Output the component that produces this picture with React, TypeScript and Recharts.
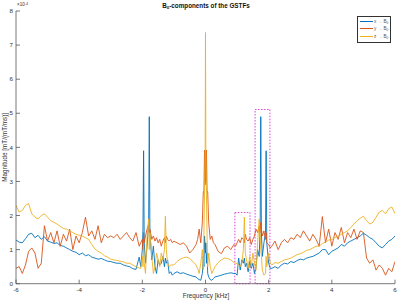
import React from 'react';
import { LineChart, Line, XAxis, YAxis, ReferenceArea, Legend, Customized, Label } from 'recharts';

// Frequency axis (kHz) – denser sampling around the spikes
const freqKHz = [
  -6.0, -5.9, -5.8, -5.7, -5.6, -5.5, -5.4, -5.3, -5.2, -5.1, -5.0, -4.9, -4.8, -4.7, -4.6, -4.5, -4.4, -4.3, -4.2, -4.1,
  -4.0, -3.9, -3.8, -3.7, -3.6, -3.5, -3.4, -3.3, -3.2, -3.1, -3.0, -2.9, -2.8, -2.7, -2.6, -2.5, -2.4, -2.3, -2.2, -2.1,
  -2.05, -2.0, -1.98, -1.96, -1.94, -1.9, -1.85, -1.8, -1.78, -1.76, -1.7, -1.65, -1.6, -1.55, -1.5, -1.45, -1.4, -1.35, -1.3, -1.27,
  -1.24, -1.2, -1.15, -1.1, -1.05,
  -1.0, -0.9, -0.8, -0.7, -0.6, -0.5, -0.4, -0.3,
  -0.25, -0.2, -0.15, -0.1, -0.07, -0.05, -0.03, -0.01, 0, 0.01, 0.03, 0.05, 0.07, 0.1, 0.15, 0.2, 0.25,
  0.3, 0.4, 0.5, 0.6, 0.7, 0.8, 0.9,
  0.95, 1.0, 1.05, 1.1, 1.15, 1.2, 1.23, 1.26, 1.3, 1.35, 1.4, 1.45, 1.5, 1.55, 1.6, 1.65, 1.7, 1.73, 1.75, 1.77,
  1.8, 1.85, 1.9, 1.92, 1.94, 2.0, 2.05,
  2.1, 2.2, 2.3, 2.4, 2.5, 2.6, 2.7, 2.8, 2.9, 3.0, 3.1, 3.2, 3.3, 3.4, 3.5, 3.6, 3.7, 3.8, 3.9, 4.0,
  4.1, 4.2, 4.3, 4.4, 4.5, 4.6, 4.7, 4.8, 4.9, 5.0, 5.1, 5.2, 5.3, 5.4, 5.5, 5.6, 5.7, 5.8, 5.9, 6.0,
];

// x -> B0 (units of 1e-4)
const xToB0 = [
  1.28, 1.22, 1.2, 1.32, 1.45, 1.48, 1.35, 1.42, 1.3, 1.38, 1.25, 1.22, 1.18, 1.2, 1.12, 1.1, 1.05, 1.0, 0.95, 0.92,
  0.85, 0.9, 0.82, 0.85, 0.78, 0.75, 0.72, 0.74, 0.7, 0.66, 0.65, 0.62, 0.6, 0.6, 0.55, 0.52, 0.5, 0.44, 0.42, 0.78,
  0.5, 1.0, 1.6, 3.9, 1.2, 0.6, 1.1, 1.8, 4.9, 1.5, 0.7, 1.1, 0.5, 0.3, 0.7, 0.55, 0.6, 0.8, 0.5, 0.75,
  0.6, 0.7, 0.3, 0.35, 0.25,
  0.3, 0.35, 0.3, 0.32, 0.28, 0.25, 0.22, 0.2,
  0.15, 0.12, 0.1, 0.3, 0.8, 0.5, 1.4, 1.0, 0.9, 1.2, 0.6, 0.9, 0.3, 0.2, 0.12, 0.1, 0.15,
  0.2, 0.22, 0.25, 0.28, 0.3, 0.32, 0.3,
  0.3, 0.25, 0.75, 0.4, 0.7, 0.6, 0.75, 0.5, 0.6, 0.35, 0.65, 0.45, 0.6, 0.3, 0.5, 1.0, 0.8, 1.6, 4.9, 1.5,
  0.8, 1.2, 1.5, 3.9, 1.2, 0.6, 0.45,
  0.45, 0.5, 0.45, 0.55, 0.6, 0.58, 0.65, 0.62, 0.68, 0.72, 0.7, 0.75, 0.78, 0.8, 0.85, 0.9, 1.0, 1.0, 0.85, 0.95,
  1.0, 1.05, 1.15, 1.1, 1.2, 1.25, 1.3, 1.35, 1.4, 1.48, 1.42, 1.35, 1.3, 1.2, 1.1, 1.05, 1.15, 1.25, 1.3, 1.4,
];

// y -> B0
const yToB0 = [
  0.45, 0.5, 0.3, 0.55, 0.95, 1.05, 0.9, 0.45, 0.6, 1.7, 1.25, 1.5, 1.2, 1.55, 1.1, 1.45, 1.25, 1.6, 1.0, 1.4,
  1.2, 1.5, 1.95, 1.4, 1.55, 1.3, 1.7, 1.2, 1.45, 1.35, 1.4, 1.35, 1.45, 1.3, 1.4, 1.5, 1.35, 1.25, 1.5, 1.1,
  1.2, 1.3, 1.0, 1.5, 1.2, 1.4, 1.6, 1.75, 1.5, 1.6, 1.3, 1.4, 1.25, 1.35, 1.2, 1.3, 1.1, 1.25, 1.35, 1.2,
  1.4, 1.3, 1.25, 1.3, 1.2,
  1.25, 1.2, 1.15, 1.2, 1.1, 0.9, 1.0, 1.15,
  1.3, 1.6, 1.2, 1.8, 2.7, 2.7, 3.92, 2.9, 3.9, 3.0, 3.92, 2.7, 2.7, 1.8, 1.3, 1.4, 1.2,
  1.15, 0.95, 0.88, 1.05, 1.1, 1.0, 1.15,
  1.1, 1.2, 1.3, 1.2, 1.35, 1.3, 1.2, 1.45, 1.3, 1.25, 1.35, 1.15, 1.3, 1.4, 1.6, 1.5, 1.7, 1.5, 1.8, 1.6,
  1.4, 1.55, 1.3, 1.5, 1.2, 1.15, 1.05,
  1.1, 1.25, 1.0, 1.2, 1.3, 1.2, 1.35, 1.3, 1.45, 1.35, 1.55, 1.4, 1.25, 1.45, 1.3, 1.1, 1.97, 1.2, 1.6, 1.1,
  1.5, 1.3, 1.65, 1.2, 1.5, 1.35, 1.6, 1.3, 1.55, 1.5, 0.75, 0.6, 0.7, 0.4, 0.55, 0.45, 0.25, 0.45, 0.35, 0.65,
];

// z -> B0
const zToB0 = [
  2.3, 2.1, 2.15, 2.3, 2.35, 2.05, 1.95, 1.9, 2.0, 2.05, 1.95, 1.85, 1.8, 1.75, 1.68, 1.62, 1.6, 1.55, 1.5, 1.45,
  1.42, 1.4, 1.35, 1.3, 1.15, 1.02, 0.95, 0.9, 0.82, 0.78, 0.72, 0.7, 0.68, 0.66, 0.64, 0.6, 0.6, 0.55, 0.5, 0.46,
  0.45, 0.8, 0.5, 1.1, 0.6, 0.3, 1.4, 1.9, 1.0, 1.5, 0.8, 0.3, 0.5, 0.9, 0.7, 0.5, 0.9, 0.7, 1.0, 1.98,
  1.0, 0.6, 0.5, 0.55, 0.55,
  0.55, 0.65, 0.72, 0.76, 0.78, 0.74, 0.65, 0.55,
  0.45, 0.3, 0.6, 1.0, 0.4, 1.5, 2.7, 4.0, 7.37, 3.9, 2.6, 1.4, 0.5, 0.9, 0.5, 0.3, 0.4,
  0.5, 0.62, 0.7, 0.75, 0.74, 0.7, 0.62,
  0.6, 0.6, 0.55, 0.5, 0.6, 1.0, 1.95, 0.9, 0.7, 0.45, 0.8, 0.5, 0.9, 0.6, 0.4, 1.2, 1.9, 1.5, 1.0, 0.8,
  0.4, 0.25, 0.3, 0.8, 0.5, 0.9, 0.6,
  0.55, 0.62, 0.6, 0.65, 0.7, 0.72, 0.75, 0.8, 0.85, 0.88, 0.92, 0.98, 1.0, 1.05, 1.1, 1.1, 1.18, 1.22, 1.28, 1.3,
  1.35, 1.4, 1.45, 1.5, 1.55, 1.65, 1.75, 1.85, 1.92, 1.98, 1.85, 1.75, 1.8, 1.95, 2.1, 2.15, 2.05, 2.2, 2.25, 2.05,
];

const xTicks = [-6, -4, -2, 0, 2, 4, 6];
const yTicks = [0, 1, 2, 3, 4, 5, 6, 7, 8];
const seriesKeys = ['x', 'y', 'z'];
const seriesColors = ['#0072BD', '#D95319', '#EDB120'];
// highlighted regions: [fromKHz, toKHz, topValue]
const highlightBoxes = [
  { f1: 0.93, f2: 1.41, top: 2.09 },
  { f1: 1.57, f2: 2.04, top: 5.11 },
];

const data = freqKHz.map((f, i) => ({ f, x: xToB0[i], y: yToB0[i], z: zToB0[i] }));

const FONT = '"Liberation Sans", Arial, Helvetica, sans-serif';
const AXIS = '#555';
const TXT = '#333';

const XTick = (props: any) => {
  const { x, y, payload } = props;
  return (
    <g>
      <line x1={x} x2={x} y1={y} y2={y - 4} stroke={AXIS} strokeWidth={0.8} />
      <text x={x} y={y + 8} textAnchor="middle" fontSize={6.2} fill={TXT} fontFamily={FONT}>
        {payload.value}
      </text>
    </g>
  );
};

const YTick = (props: any) => {
  const { x, y, payload } = props;
  return (
    <g>
      <line x1={x} x2={x + 4} y1={y} y2={y} stroke={AXIS} strokeWidth={0.8} />
      <text x={x - 3} y={y + 2.2} textAnchor="end" fontSize={6.2} fill={TXT} fontFamily={FONT}>
        {payload.value}
      </text>
    </g>
  );
};

const Decorations = () => (
  <g fontFamily={FONT}>
    <text x={206} y={7.5} textAnchor="middle" fontWeight="bold" fontSize={6.3} fill="#111">
      B<tspan fontSize={4.4} dy={1.5}>0</tspan>
      <tspan dy={-1.5}>-components of the GSTFs</tspan>
    </text>
    <text x={17} y={6.3} fontSize={4.6} fill={TXT}>
      ×10<tspan fontSize={3.6} dy={-1.8}>-4</tspan>
    </text>
  </g>
);

const LegendBox = () => (
  <div
    style={{
      border: '1px solid #333',
      background: '#fff',
      width: 32,
      height: 24,
      boxSizing: 'content-box',
      fontFamily: FONT,
      fontSize: 4.6,
      color: '#555',
      paddingTop: 1,
    }}
  >
    {seriesKeys.map((k, i) => (
      <div key={k} style={{ position: 'relative', height: 7.6, width: 32 }}>
        <div
          style={{
            position: 'absolute',
            left: 2,
            top: 3.2,
            width: 13,
            height: 1.2,
            background: seriesColors[i],
          }}
        />
        <span style={{ position: 'absolute', left: 16, top: 0, whiteSpace: 'nowrap', lineHeight: '7px' }}>
          {k} → B<span style={{ fontSize: 3.2, position: 'relative', top: 1.2 }}>0</span>
        </span>
      </div>
    ))}
  </div>
);

export default function App() {
  return (
    <div style={{ position: 'absolute', left: 0, top: 0, background: '#fff' }}>
      <LineChart width={400} height={302} data={data} margin={{ top: 11, right: 5, left: 0, bottom: 0 }}>
        <XAxis
          dataKey="f"
          type="number"
          domain={[-6, 6]}
          ticks={xTicks}
          interval={0}
          allowDataOverflow
          height={18.3}
          tickSize={0}
          tickMargin={0}
          tickLine={false}
          axisLine={{ stroke: AXIS, strokeWidth: 0.8 }}
          tick={<XTick />}
        >
          <Label
            content={() => (
              <text x={206} y={298} textAnchor="middle" fontSize={6.4} fill={TXT} fontFamily={FONT}>
                Frequency [kHz]
              </text>
            )}
          />
        </XAxis>
        <YAxis
          type="number"
          domain={[0, 8]}
          ticks={yTicks}
          interval={0}
          allowDataOverflow
          width={16}
          tickSize={0}
          tickMargin={0}
          tickLine={false}
          axisLine={{ stroke: AXIS, strokeWidth: 0.8 }}
          tick={<YTick />}
        >
          <Label
            content={() => (
              <text
                x={5.5}
                y={147.4}
                textAnchor="middle"
                fontSize={6.3}
                fill={TXT}
                fontFamily={FONT}
                transform="rotate(-90 5.5 147.4)"
                dominantBaseline="middle"
              >
                Magnitude [mT/(mT/ms)]
              </text>
            )}
          />
        </YAxis>
        {seriesKeys.map((k, i) => (
          <Line
            key={k}
            dataKey={k}
            name={k}
            type="linear"
            stroke={seriesColors[i]}
            strokeWidth={0.9}
            dot={false}
            activeDot={false}
            isAnimationActive={false}
          />
        ))}
        {highlightBoxes.map((b, i) => (
          <ReferenceArea
            key={i}
            x1={b.f1}
            x2={b.f2}
            y1={0}
            y2={b.top}
            fill="none"
            fillOpacity={0}
            stroke="#DD44DD"
            strokeWidth={1}
            strokeDasharray="1.5 1.5"
            ifOverflow="visible"
          />
        ))}
        <Legend
          layout="horizontal"
          verticalAlign="middle"
          align="center"
          content={<LegendBox />}
          wrapperStyle={{ position: 'absolute', left: 357, top: 15.5, width: 34, height: 26 }}
        />
        <Customized component={Decorations} />
      </LineChart>
    </div>
  );
}
